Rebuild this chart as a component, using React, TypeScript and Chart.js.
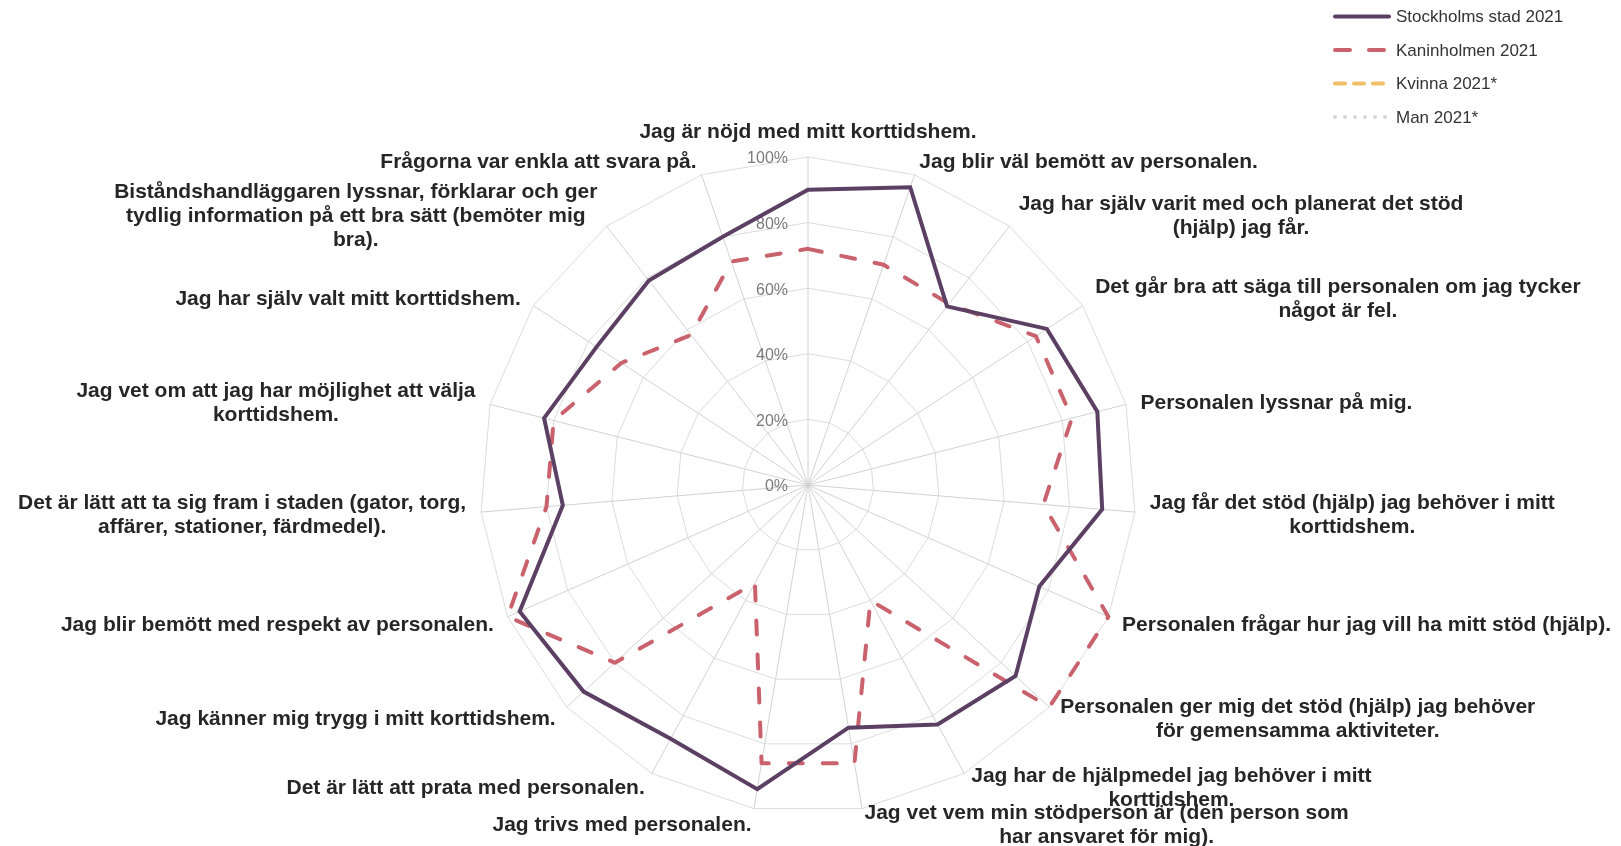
import React, { useEffect, useRef } from "react";
import { Chart, registerables } from "chart.js";

Chart.register(...registerables);

// ---- data ----
const categories: string[][] = [
  ["Jag är nöjd med mitt korttidshem."],
  ["Jag blir väl bemött av personalen."],
  ["Jag har själv varit med och planerat det stöd", "(hjälp) jag får."],
  ["Det går bra att säga till personalen om jag tycker", "något är fel."],
  ["Personalen lyssnar på mig."],
  ["Jag får det stöd (hjälp) jag behöver i mitt", "korttidshem."],
  ["Personalen frågar hur jag vill ha mitt stöd (hjälp)."],
  ["Personalen ger mig det stöd (hjälp) jag behöver", "för gemensamma aktiviteter."],
  ["Jag har de hjälpmedel jag behöver i mitt", "korttidshem."],
  ["Jag vet vem min stödperson är (den person som", "har ansvaret för mig)."],
  ["Jag trivs med personalen."],
  ["Det är lätt att prata med personalen."],
  ["Jag känner mig trygg i mitt korttidshem."],
  ["Jag blir bemött med respekt av personalen."],
  ["Det är lätt att ta sig fram i staden (gator, torg,", "affärer, stationer, färdmedel)."],
  ["Jag vet om att jag har möjlighet att välja", "korttidshem."],
  ["Jag har själv valt mitt korttidshem."],
  ["Biståndshandläggaren lyssnar, förklarar och ger", "tydlig information på ett bra sätt (bemöter mig", "bra)."],
  ["Frågorna var enkla att svara på."],
];

const stockholm: number[] = [90, 96, 69, 87, 91, 90, 77, 86, 83, 75, 94, 88, 93, 96, 75, 83, 77, 79, 80];
const kaninholmen: number[] = [72, 71, 70, 83, 83, 72, 100, 100, 40, 86, 86, 34, 80, 100, 80, 80, 68, 58, 72];
const kvinna: number[] = [];
const man: number[] = [];

const seriesNames: string[] = ["Stockholms stad 2021", "Kaninholmen 2021", "Kvinna 2021*", "Man 2021*"];
const tickValues: number[] = [0, 20, 40, 60, 80, 100];
const tickLabels: string[] = ["0%", "20%", "40%", "60%", "80%", "100%"];

// ---- styles ----
const LABEL_FONT = 'bold 21px "Liberation Sans", Arial, sans-serif';
const LABEL_LINE_H = 24;
const LABEL_DIST = 15;
const TEXT_DY = 2;
const TICK_FONT = '16px "Liberation Sans", Arial, sans-serif';
const LEGEND_FONT = '17px "Liberation Sans", Arial, sans-serif';

const tickPlugin = {
  id: "tickLabels",
  beforeDatasetsDraw(chart: any) {
    const scale = chart.scales.r;
    const ctx = chart.ctx;
    ctx.save();
    ctx.font = TICK_FONT;
    ctx.fillStyle = "#7a7a7a";
    ctx.textAlign = "right";
    ctx.textBaseline = "middle";
    tickValues.forEach((v, i) => {
      const d = scale.getDistanceFromCenterForValue(v);
      ctx.fillText(tickLabels[i], scale.xCenter - 20, scale.yCenter - d + TEXT_DY);
    });
    ctx.restore();
  },
};

const pointLabelPlugin = {
  id: "pointLabelsCustom",
  afterDraw(chart: any) {
    const scale = chart.scales.r;
    const ctx = chart.ctx;
    ctx.save();
    ctx.font = LABEL_FONT;
    ctx.fillStyle = "#262626";
    ctx.textAlign = "center";
    ctx.textBaseline = "middle";
    categories.forEach((lines, i) => {
      const p = scale.getPointPosition(i, scale.drawingArea + LABEL_DIST);
      const w = Math.max(...lines.map((l) => ctx.measureText(l).width));
      const dx = p.x - scale.xCenter;
      let left: number;
      if (Math.abs(dx) < 1) left = p.x - w / 2;
      else if (dx > 0) left = p.x;
      else left = p.x - w;
      const h = lines.length * LABEL_LINE_H;
      const top = Math.abs(dx) < 1 && p.y < scale.yCenter ? p.y - h : p.y - h / 2;
      lines.forEach((l, k) => {
        ctx.fillText(l, left + w / 2, top + LABEL_LINE_H * (k + 0.5) + TEXT_DY);
      });
    });
    ctx.restore();
  },
};

const legendPlugin = {
  id: "customLegend",
  afterDraw(chart: any) {
    const ctx = chart.ctx;
    const x0 = 1335;
    const x1 = 1389;
    const tx = 1396;
    const y0 = 16.5;
    const step = 33.5;
    ctx.save();
    chart.data.datasets.forEach((ds: any, i: number) => {
      const y = y0 + i * step;
      ctx.beginPath();
      ctx.lineWidth = 4;
      ctx.lineCap = "round";
      ctx.strokeStyle = ds.borderColor;
      ctx.setLineDash(ds.legendDash || []);
      ctx.moveTo(x0, y);
      ctx.lineTo(x1, y);
      ctx.stroke();
      ctx.setLineDash([]);
      ctx.font = LEGEND_FONT;
      ctx.fillStyle = "#333333";
      ctx.textAlign = "left";
      ctx.textBaseline = "middle";
      ctx.fillText(ds.label, tx, y + 1);
    });
    ctx.restore();
  },
};

export default function App() {
  const ref = useRef<HTMLCanvasElement | null>(null);

  useEffect(() => {
    document.documentElement.style.overflow = "hidden";
    if (!ref.current) return;
    const chart = new Chart(ref.current, {
      type: "radar",
      data: {
        labels: categories.map((c) => c.join(" ")),
        datasets: [
          {
            label: seriesNames[0],
            data: stockholm,
            borderColor: "#5c4064",
            backgroundColor: "transparent",
            borderWidth: 4,
            fill: false,
            pointRadius: 0,
            borderJoinStyle: "miter",
            legendDash: [],
          } as any,
          {
            label: seriesNames[1],
            data: kaninholmen,
            borderColor: "#c9626c",
            backgroundColor: "transparent",
            borderWidth: 4,
            borderDash: [14, 20],
            borderCapStyle: "round",
            borderJoinStyle: "round",
            fill: false,
            pointRadius: 0,
            legendDash: [15, 19],
          } as any,
          {
            label: seriesNames[2],
            data: kvinna,
            borderColor: "#efbf6a",
            backgroundColor: "transparent",
            borderWidth: 4,
            borderDash: [10, 9],
            fill: false,
            pointRadius: 0,
            legendDash: [10, 9],
          } as any,
          {
            label: seriesNames[3],
            data: man,
            borderColor: "#d6d6d6",
            backgroundColor: "transparent",
            borderWidth: 4,
            borderDash: [0.001, 10],
            fill: false,
            pointRadius: 0,
            legendDash: [0.001, 10],
          } as any,
        ],
      },
      options: {
        responsive: false,
        animation: false,
        layout: { padding: { left: 8, right: 13, top: 157, bottom: 32 } },
        plugins: {
          legend: { display: false },
          tooltip: { enabled: false },
          title: { display: false },
        },
        scales: {
          r: {
            min: 0,
            max: 100,
            startAngle: 0,
            ticks: { display: false, stepSize: 20 },
            grid: { color: "#dcdcdc", lineWidth: 1, circular: false },
            angleLines: { color: "#d2d2d2", lineWidth: 1 },
            pointLabels: { display: false },
          },
        },
      },
      plugins: [tickPlugin, pointLabelPlugin, legendPlugin],
    });
    return () => chart.destroy();
  }, []);

  return (
    <canvas
      ref={ref}
      width={1621}
      height={846}
      style={{ display: "block", position: "fixed", left: 0, top: 0 }}
    />
  );
}
